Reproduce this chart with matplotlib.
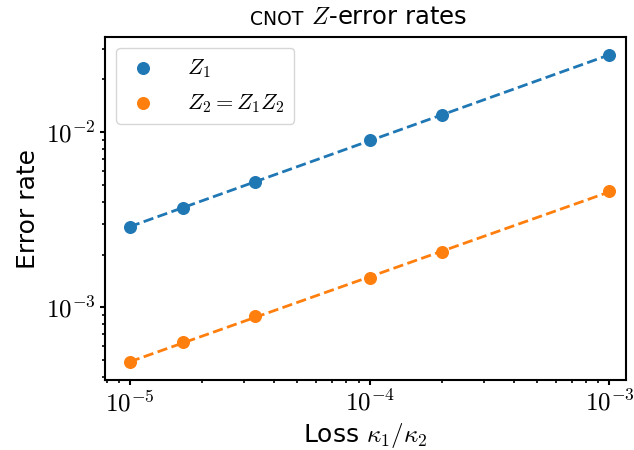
import numpy as np
import matplotlib.pyplot as plt
from matplotlib.ticker import FuncFormatter

plt.rcParams['mathtext.fontset'] = 'cm'
plt.rcParams['font.family'] = ['DejaVu Sans']

loss = [1e-5, 1.667e-5, 3.333e-5, 1e-4, 2e-4, 1e-3]
z1 = [2.88e-3, 3.70e-3, 5.2e-3, 9.0e-3, 1.26e-2, 2.75e-2]
z2 = [4.85e-4, 6.3e-4, 8.9e-4, 1.47e-3, 2.07e-3, 4.6e-3]
labels = [r'$Z_1$', r'$Z_2 = Z_1 Z_2$']

fig, ax = plt.subplots(figsize=(6.34, 4.5), dpi=100)
x = np.array(loss)
for ys, lab, col in zip([z1, z2], labels, ['C0', 'C1']):
    ys = np.array(ys)
    ax.scatter(x, ys, s=70, color=col, label=lab, zorder=3)
    # power-law fit
    p = np.polyfit(np.log10(x), np.log10(ys), 1)
    ax.plot(x, 10 ** np.polyval(p, np.log10(x)), '--', color=col, lw=2)

ax.set_xscale('log')
ax.set_yscale('log')
ax.set_xlim(7.9e-6, 1.17e-3)
ax.set_ylim(3.83e-4, 3.5e-2)

def logfmt(v, pos):
    e = int(round(np.log10(v)))
    if abs(v - 10.0 ** e) > 1e-3 * v:
        return ''
    return r'$10^{%d}$' % e

ax.xaxis.set_major_formatter(FuncFormatter(logfmt))
ax.yaxis.set_major_formatter(FuncFormatter(logfmt))
ax.tick_params(labelsize=18, width=1.5)
ax.tick_params(which='minor', width=1.2)
for s in ax.spines.values():
    s.set_linewidth(1.5)
ax.set_xlabel(r'Loss $\kappa_1/\kappa_2$', fontsize=18)
ax.set_ylabel('Error rate', fontsize=18)

# title: small-caps-ish "CNOT" followed by the rest
t1 = ax.text(0.279, 1.022, 'CNOT', transform=ax.transAxes, fontsize=13.5,
             ha='left', va='bottom')
ax.annotate(r' $Z$-error rates', xy=(1, 0), xycoords=t1, fontsize=17.5,
            ha='left', va='bottom')

ax.legend(loc='upper left', prop={'size': 16}, handletextpad=1.2,
          borderpad=0.4, labelspacing=0.55, handlelength=1.6)
fig.subplots_adjust(left=0.166, right=0.987, top=0.918, bottom=0.155)
fig.savefig('out.png', dpi=100)
